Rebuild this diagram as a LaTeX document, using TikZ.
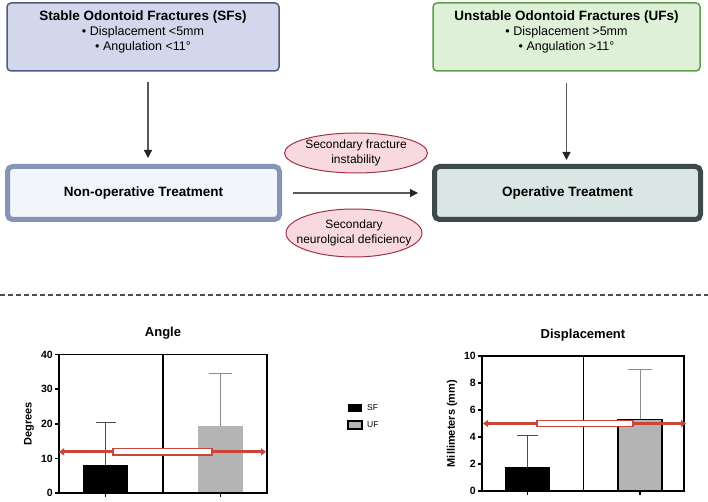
\documentclass[tikz,border=0pt]{standalone}
\usepackage{fontspec}
\setmainfont{Liberation Sans}
\usetikzlibrary{arrows.meta,shapes.geometric}

\definecolor{sfedge}{HTML}{4F5B80}
\definecolor{sffill}{HTML}{D3D7EB}
\definecolor{ufedge}{HTML}{5B9F4B}
\definecolor{uffill}{HTML}{DFF0D9}
\definecolor{nonedge}{HTML}{8694B6}
\definecolor{nonfill}{HTML}{F2F5FB}
\definecolor{opedge}{HTML}{3E4A4A}
\definecolor{opfill}{HTML}{D9E6E3}
\definecolor{elledge}{HTML}{9E3347}
\definecolor{ellfill}{HTML}{F8D9DF}
\definecolor{limitred}{HTML}{C9463D}
\definecolor{bargray}{HTML}{B4B4B4}

\tikzset{
  topbox/.style={draw,rounded corners=4pt,line width=1.5pt,minimum height=68pt,text depth=12pt,align=center,font=\fontsize{12.5}{15}\selectfont},
  treatbox/.style={draw,rounded corners=5pt,line width=5pt,minimum height=53pt,font=\fontsize{13.5}{16}\selectfont\bfseries},
  reason/.style={ellipse,draw=elledge,fill=ellfill,line width=1pt,inner sep=0pt,align=center,font=\fontsize{12}{14.5}\selectfont},
  flow/.style={black!65,line width=1.2pt,-{Triangle[width=8pt,length=8pt,black!85]}},
  limit/.style={limitred,line width=3pt,{Triangle[width=7pt,length=5pt]}-{Triangle[width=7pt,length=5pt]}},
  frame/.style={line width=1.5pt},
  errbar/.style={line width=1pt},
  ticklab/.style={font=\fontsize{10.5}{12}\selectfont\bfseries,anchor=east,inner sep=1.5pt},
  axislab/.style={font=\fontsize{11}{13}\selectfont\bfseries,rotate=90},
  charttitle/.style={font=\fontsize{13}{15}\selectfont\bfseries},
  legendlab/.style={font=\fontsize{8.5}{10}\selectfont,anchor=west,inner sep=1pt},
}

\begin{document}
\begin{tikzpicture}[x=1pt,y=-1pt]
\useasboundingbox (0,0) rectangle (708,502);

\draw (143,37) node[topbox,draw=sfedge,fill=sffill,minimum width=272pt](sf) {{\fontsize{13.5}{16}\selectfont\bfseries Stable Odontoid Fractures (SFs)}\\• Displacement <5mm\\• Angulation <11°};
\draw (566.5,37) node[topbox,draw=ufedge,fill=uffill,minimum width=267pt](uf) {{\fontsize{13.5}{16}\selectfont\bfseries Unstable Odontoid Fractures (UFs)}\\• Displacement >5mm\\• Angulation >11°};
\draw (143.5,193) node[treatbox,draw=nonedge,fill=nonfill,minimum width=272pt](nonop) {Non-operative Treatment};
\draw (567.5,193) node[treatbox,draw=opedge,fill=opfill,minimum width=266pt](op) {Operative Treatment};
\draw (356,153) node[reason,minimum width=143pt,minimum height=40pt](instab) {\makebox[0pt]{Secondary fracture}\\\makebox[0pt]{instability}};
\draw (354,233) node[reason,minimum width=136pt,minimum height=48pt](neuro) {\makebox[0pt]{Secondary}\\\makebox[0pt]{neurolgical deficiency}};

\draw[flow,shorten <=10pt,shorten >=6pt] ([xshift=5pt]sf.south) -- ([xshift=5pt]sf.south |- nonop.north);
\draw[flow,shorten <=11pt,shorten >=4pt] (uf.south) -- (uf.south |- op.north);
\draw[flow,shorten <=11pt,shorten >=14pt] (nonop.east) -- (op.west);

\draw[black!70,line width=1.3pt,dash pattern=on 5pt off 3pt] (0,295) -- (708,295);

\node[charttitle] (angle) at (163,333) {Angle};
\begin{scope}[shift={(59,493)},y=3.46pt]
\fill (24,0) rectangle (69,8.1);
\fill[bargray] (139,0) rectangle (184,19.4);
\draw[errbar,black!70] (46.5,8.1) -- (46.5,20.3) (36.5,20.3) -- (56.5,20.3);
\draw[errbar,black!45] (161.5,19.4) -- (161.5,34.4) (150,34.4) -- (173,34.4);
\draw[frame] (0,0) rectangle (208,40) (104,0) -- (104,40);
\foreach \v in {0,10,20,30,40}
  \draw[frame] (-4,\v) -- (0,\v) node[ticklab,at start] {\v};
\foreach \t in {46.5,161.5}
  \draw[frame] (\t,0) -- ++(0pt,-4pt);
\draw[limit] (0,11.9) -- (207,11.9);
\draw[limitred,line width=1.2pt,fill=white] (54,11.0) rectangle (153,12.8);
\node[axislab] (degrees) at (-30,20) {Degrees};
\end{scope}

\fill (348,404) rectangle (362,412);
\node[legendlab] (sflab) at (366,408) {SF};
\draw[fill=bargray,line width=1.2pt] (348,421) rectangle (362,429);
\node[legendlab] (uflab) at (366,425) {UF};

\node[charttitle] (displ) at (583,335) {Displacement};
\begin{scope}[shift={(482,491)},y=13.5pt]
\fill (23,0) rectangle (68,1.75);
\draw[fill=bargray,line width=1.5pt] (136,0) rectangle (180,5.3);
\draw[errbar,black!70] (45.5,1.75) -- (45.5,4.1) (35,4.1) -- (56,4.1);
\draw[errbar,black!45] (158,5.3) -- (158,9.0) (146,9.0) -- (170,9.0);
\draw[frame] (0,0) rectangle (202,10) (101.5,0) -- (101.5,10);
\foreach \v in {0,2,4,6,8,10}
  \draw[frame] (-4,\v) -- (0,\v) node[ticklab,at start] {\v};
\foreach \t in {45.5,158}
  \draw[frame] (\t,0) -- ++(0pt,-4pt);
\draw[limit] (1,5.0) -- (204,5.0);
\draw[limitred,line width=1.2pt,fill=white] (55,4.78) rectangle (151,5.22);
\node[axislab] (mm) at (-30,5) {Millimeters (mm)};
\end{scope}
\end{tikzpicture}
\end{document}
